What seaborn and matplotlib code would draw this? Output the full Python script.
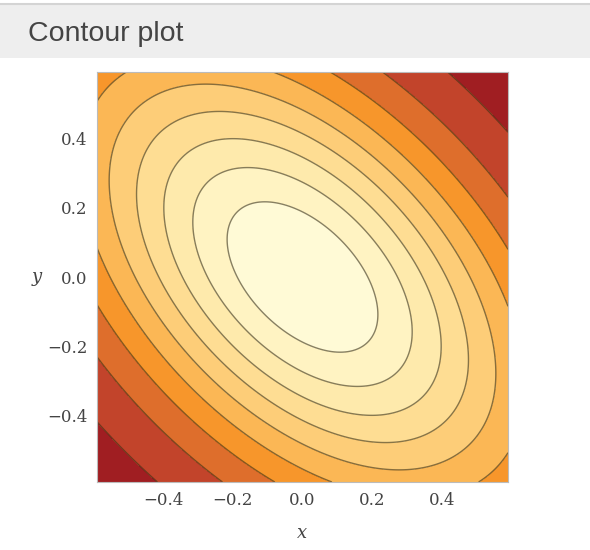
import numpy as np
import matplotlib.pyplot as plt
import seaborn as sns
from matplotlib.patches import Rectangle
from matplotlib.lines import Line2D
from matplotlib.ticker import MultipleLocator

# ── DATA ──────────────────────────────────────────────────────────────────
x_range = [-0.59, 0.59]
y_range = [-0.59, 0.59]
# field: exp(-k * (a*x^2 + b*x*y + c*y^2)), tilted bump centred on 0
coef_xx, coef_xy, coef_yy = 1.0, 1.0, 1.0
decay = 3.0
# contour levels (lines) and band edges
levels = [0.1, 0.2, 0.3, 0.4, 0.5, 0.6, 0.7, 0.8, 0.9]
band_edges = [0.0] + levels + [1.0]
# band colours from the lowest band (corners) to the highest (centre)
band_colors = ['#a01e22', '#c2442b', '#de6e2c', '#f7962b', '#fbb755',
               '#fdcd78', '#fedd93', '#feeaac', '#fff3c2', '#fffad6']
x_ticks = [-0.4, -0.2, 0.0, 0.2, 0.4]
y_ticks = [-0.4, -0.2, 0.0, 0.2, 0.4]
title = 'Contour plot'

# ── STYLE ─────────────────────────────────────────────────────────────────
sns.set_style('white')
plt.rcParams['font.family'] = ['DejaVu Serif']

fig = plt.figure(figsize=(5.9, 5.5), dpi=100)

# header strip
fig.patches.append(Rectangle((0, 1 - 58 / 550), 1, 54 / 550, transform=fig.transFigure,
                             facecolor='#eeeeee', edgecolor='none', zorder=0))
fig.lines.append(Line2D([0, 1], [1 - 4 / 550] * 2, transform=fig.transFigure,
                        color='#d4d4d4', lw=1.5))
fig.text(28 / 590, 1 - 34 / 550, title, fontsize=20.5, color='#444444',
         family=['Liberation Sans', 'DejaVu Sans'], va='center', ha='left')

ax = fig.add_axes([97 / 590, 1 - 482 / 550, 411 / 590, 410 / 550])

gx = np.linspace(x_range[0], x_range[1], 400)
gy = np.linspace(y_range[0], y_range[1], 400)
X, Y = np.meshgrid(gx, gy)
Z = np.exp(-decay * (coef_xx * X**2 + coef_xy * X * Y + coef_yy * Y**2))

ax.contourf(X, Y, Z, levels=band_edges, colors=sns.color_palette(band_colors))
ax.contour(X, Y, Z, levels=levels, colors=[(0.22, 0.18, 0.08, 0.6)], linewidths=1.0)

ax.set_xlim(x_range)
ax.set_ylim(y_range)
ax.set_xticks(x_ticks)
ax.set_yticks(y_ticks)
ax.set_xticklabels([f'{v:.1f}'.replace('-', '\u2212') for v in x_ticks])
ax.set_yticklabels([f'{v:.1f}'.replace('-', '\u2212') for v in y_ticks])
ax.xaxis.set_minor_locator(MultipleLocator(0.05))
ax.yaxis.set_minor_locator(MultipleLocator(0.05))
ax.tick_params(which='both', direction='in', top=True, right=True, color='#999999')
ax.tick_params(which='major', length=5, width=0.8, labelsize=12, labelcolor='#444444', pad=7)
ax.tick_params(which='minor', length=2.5, width=0.6)
for s in ax.spines.values():
    s.set_color('#bbbbbb')
    s.set_linewidth(0.8)

ax.set_xlabel('x', fontsize=13, style='italic', color='#444444', va='center')
ax.set_ylabel('y', fontsize=13, style='italic', color='#444444', rotation=0,
              va='center', ha='center')
ax.xaxis.set_label_coords(0.5, -0.124)
ax.yaxis.set_label_coords(-0.146, 0.5)

fig.savefig('out.png', dpi=100)
